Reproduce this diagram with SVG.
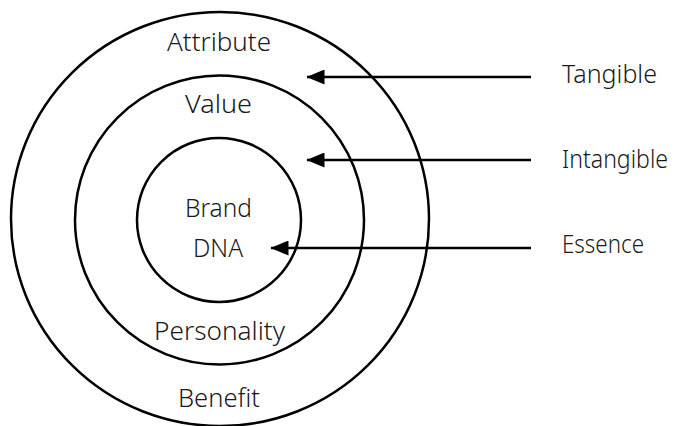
<svg xmlns="http://www.w3.org/2000/svg" width="681" height="426" viewBox="0 0 681 426">
<defs>
<style>
.ring{fill:none;stroke:#000;stroke-width:2.5}
.lbl{font-family:"Noto Sans","Open Sans","Liberation Sans",sans-serif;font-size:25px;font-weight:300;fill:#1a1a1a;text-anchor:middle}
.side{font-family:"Noto Sans","Open Sans","Liberation Sans",sans-serif;font-size:25px;font-weight:300;fill:#1a1a1a}
.conn{stroke:#000;stroke-width:2.5;fill:none;marker-end:url(#ah)}
</style>
<marker id="ah" markerWidth="8" markerHeight="6" refX="7" refY="3" orient="auto" markerUnits="strokeWidth">
<path d="M0,0 L7.2,3 L0,6 z" fill="#000"/>
</marker>
</defs>
<rect width="681" height="426" fill="#fff"/>
<g id="outer">
<ellipse class="ring" cx="220" cy="219" rx="209" ry="207"/>
<text class="lbl" x="219" y="51" textLength="104" lengthAdjust="spacingAndGlyphs">Attribute</text>
<text class="lbl" x="219" y="407" textLength="82" lengthAdjust="spacingAndGlyphs">Benefit</text>
</g>
<g id="middle">
<circle class="ring" cx="219.5" cy="220" r="144.5"/>
<text class="lbl" x="218.5" y="113" textLength="67" lengthAdjust="spacingAndGlyphs">Value</text>
<text class="lbl" x="219.5" y="340" textLength="131" lengthAdjust="spacingAndGlyphs">Personality</text>
</g>
<g id="inner">
<circle class="ring" cx="219" cy="220" r="82"/>
<text class="lbl" x="218.5" y="217" textLength="67" lengthAdjust="spacingAndGlyphs">Brand</text>
<text class="lbl" x="218" y="257" textLength="50" lengthAdjust="spacingAndGlyphs">DNA</text>
</g>
<g id="tangible">
<text class="side" x="562" y="83" textLength="95" lengthAdjust="spacingAndGlyphs">Tangible</text>
</g>
<g id="intangible">
<text class="side" x="562" y="168" textLength="106" lengthAdjust="spacingAndGlyphs">Intangible</text>
</g>
<g id="essence">
<text class="side" x="562" y="253" textLength="82" lengthAdjust="spacingAndGlyphs">Essence</text>
</g>
<g id="connectors">
<line class="conn" x1="531" y1="77" x2="307" y2="77"/>
<line class="conn" x1="531" y1="160" x2="307" y2="160"/>
<line class="conn" x1="531" y1="248" x2="271" y2="248"/>
</g>
</svg>
